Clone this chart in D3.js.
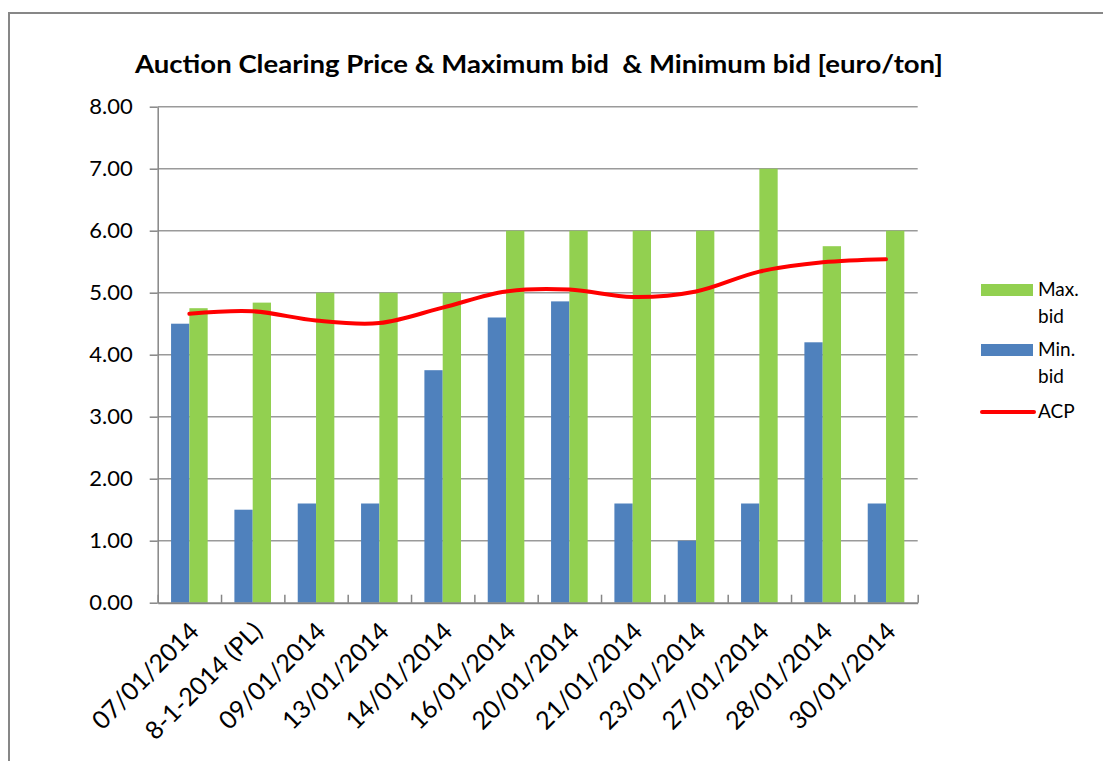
<!DOCTYPE html>
<html>
<head>
<meta charset="utf-8">
<script src="https://cdn.jsdelivr.net/npm/d3@7"></script>
<style>
  html, body { margin: 0; padding: 0; background: #fff; }
  text { font-family: Lato, "Open Sans", sans-serif; fill: #000; }
</style>
</head>
<body>
<script>
// auction dates (category axis)
const dates = ['07/01/2014', '8-1-2014 (PL)', '09/01/2014', '13/01/2014', '14/01/2014', '16/01/2014',
    '20/01/2014', '21/01/2014', '23/01/2014', '27/01/2014', '28/01/2014', '30/01/2014'];

const minBid = [4.5, 1.5, 1.6, 1.6, 3.75, 4.6, 4.86, 1.6, 1.0, 1.6, 4.2, 1.6];
const maxBid = [4.75, 4.84, 5.0, 5.0, 5.0, 6.0, 6.0, 6.0, 6.0, 7.0, 5.75, 6.0];
const acp    = [4.66, 4.70, 4.55, 4.51, 4.76, 5.02, 5.05, 4.93, 5.02, 5.34, 5.49, 5.54];

const yTicks = [0, 1, 2, 3, 4, 5, 6, 7, 8];

const seriesNames = ['Min. bid', 'Max. bid'];
const colors = { 'Min. bid': '#4F81BD', 'Max. bid': '#92D050', 'ACP': '#FF0000' };

function main() {
    const W = 1103, H = 761;
    const left = 157.7, right = 917.7, top = 106.7, bottom = 602.7;

    const svg = d3.select('body').append('svg')
        .attr('width', W)
        .attr('height', H);

    svg.append('rect').attr('width', W).attr('height', H).attr('fill', '#fff');

    // outer chart frame
    svg.append('rect')
        .attr('x', 9).attr('y', 13)
        .attr('width', 1300).attr('height', 900)
        .attr('fill', 'none')
        .attr('stroke', '#878787')
        .attr('stroke-width', 2);

    svg.append('text')
        .attr('x', 135).attr('y', 73)
        .attr('textLength', 808)
        .attr('lengthAdjust', 'spacingAndGlyphs')
        .style('font-size', '25px')
        .style('font-weight', 'bold')
        .style('white-space', 'pre')
        .text('Auction Clearing Price & Maximum bid  & Minimum bid [euro/ton]');

    const x = d3.scaleBand().domain(dates).range([left, right]).paddingInner(0).paddingOuter(0);
    const x1 = d3.scaleBand().domain(seriesNames).range([0, x.bandwidth()]).paddingInner(0).paddingOuter(0.73);
    const y = d3.scaleLinear().domain([0, 8]).range([bottom, top]);

    // gridlines
    svg.append('g').selectAll('line')
        .data(yTicks.filter(d => d > 0))
        .join('line')
        .attr('x1', left).attr('x2', right)
        .attr('y1', d => y(d)).attr('y2', d => y(d))
        .attr('stroke', '#9A9A9A')
        .attr('stroke-width', 1.4);

    // bars
    const rows = dates.map((d, i) => ({ date: d, 'Min. bid': minBid[i], 'Max. bid': maxBid[i] }));
    svg.append('g').selectAll('g')
        .data(rows)
        .join('g')
        .attr('transform', d => 'translate(' + x(d.date) + ',0)')
        .selectAll('rect')
        .data(d => seriesNames.map(k => ({ key: k, value: d[k] })))
        .join('rect')
        .attr('x', d => x1(d.key))
        .attr('width', x1.bandwidth())
        .attr('y', d => y(d.value))
        .attr('height', d => y(0) - y(d.value))
        .attr('fill', d => colors[d.key]);

    // y axis
    const yAxis = svg.append('g')
        .attr('transform', 'translate(' + left + ',0)')
        .call(d3.axisLeft(y).tickValues(yTicks).tickFormat(d3.format('.2f')).tickSizeInner(8).tickSizeOuter(0).tickPadding(17));
    yAxis.select('.domain').attr('stroke', '#868686').attr('stroke-width', 1.5);
    yAxis.selectAll('.tick line').attr('stroke', '#868686').attr('stroke-width', 1.5);
    yAxis.selectAll('.tick text')
        .style('font-family', 'Lato, sans-serif')
        .style('font-size', '22px')
        .attr('fill', '#000');

    // x axis: tick marks at category boundaries, pointing inside
    const xb = d3.scaleLinear().domain([0, dates.length]).range([left, right]);
    const xAxis = svg.append('g')
        .attr('transform', 'translate(0,' + bottom + ')')
        .call(d3.axisBottom(xb).tickValues(d3.range(dates.length + 1))
            .tickFormat('').tickSizeInner(-8).tickSizeOuter(0));
    xAxis.select('.domain').attr('stroke', '#868686').attr('stroke-width', 2);
    xAxis.selectAll('.tick line').attr('stroke', '#868686').attr('stroke-width', 1.5);

    svg.append('g').selectAll('text')
        .data(dates)
        .join('text')
        .attr('transform', d => 'translate(' + (x(d) + x.bandwidth() / 2 + 5) + ',' + (bottom + 24) + ') rotate(-45)')
        .attr('text-anchor', 'end')
        .attr('dy', '0.35em')
        .style('font-size', '25px')
        .text(d => d);

    // ACP line
    const line = d3.line()
        .x((d, i) => x(dates[i]) + x.bandwidth() / 2)
        .y(d => y(d))
        .curve(d3.curveCatmullRom.alpha(0.5));
    svg.append('path')
        .datum(acp)
        .attr('d', line)
        .attr('fill', 'none')
        .attr('stroke', colors['ACP'])
        .attr('stroke-width', 4)
        .attr('stroke-linecap', 'round');

    // legend
    const lg = svg.append('g').attr('transform', 'translate(981,0)');
    const legendItems = [
        { name: 'Max. bid', lines: ['Max.', 'bid'], y: 284, type: 'rect' },
        { name: 'Min. bid', lines: ['Min.', 'bid'], y: 344, type: 'rect' },
        { name: 'ACP', lines: ['ACP'], y: 406, type: 'line' }
    ];
    legendItems.forEach(it => {
        if (it.type === 'rect') {
            lg.append('rect').attr('x', 0).attr('y', it.y).attr('width', 52).attr('height', 12)
                .attr('fill', colors[it.name]);
        } else {
            lg.append('line').attr('x1', 1).attr('x2', 53).attr('y1', it.y + 6).attr('y2', it.y + 6)
                .attr('stroke', colors[it.name]).attr('stroke-width', 4).attr('stroke-linecap', 'round');
        }
        it.lines.forEach((t, j) => {
            lg.append('text')
                .attr('x', 57)
                .attr('y', it.y + 12 + j * 27)
                .style('font-size', '19px')
                .text(t);
        });
    });
}
window.onload = main;
</script>
</body>
</html>
